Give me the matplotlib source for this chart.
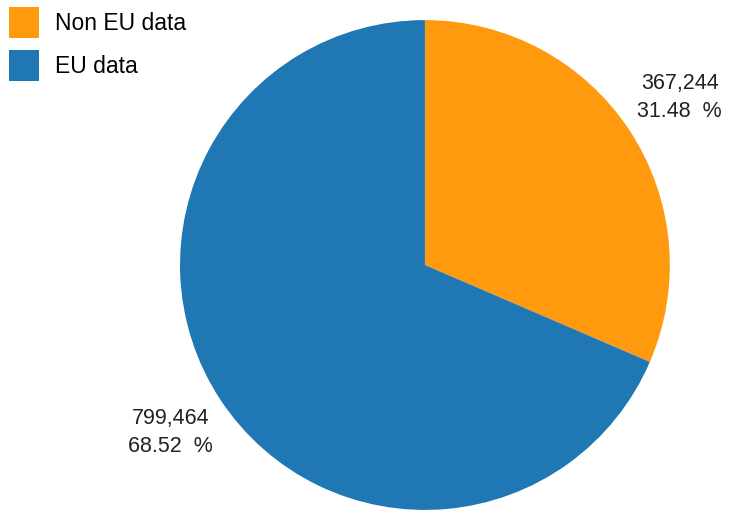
import matplotlib.pyplot as plt

categories = ['Non EU data', 'EU data']
values = [367244, 799464]
colors = ['#ff9a0e', '#1f77b4']

plt.rcParams['font.family'] = ['Liberation Sans', 'DejaVu Sans']

fig = plt.figure(figsize=(7.3, 5.12), dpi=100)
ax = fig.add_axes([0.2466, 0.0039, 0.671, 0.957])

total = sum(values)
labels = ['{:,}\n{:.2f}  %'.format(v, 100 * v / total) for v in values]

wedges, texts = ax.pie(values, colors=colors, startangle=90, counterclock=False,
                       labels=labels, labeldistance=1.245,
                       textprops={'fontsize': 15.5, 'color': '#222222',
                                  'linespacing': 1.4})
for t in texts:
    t.set_horizontalalignment('center')
    t.set_multialignment('center')
ax.set_xlim(-1, 1)
ax.set_ylim(-1, 1)
ax.set_aspect('equal')

fig.legend(wedges, categories, loc='upper left', bbox_to_anchor=(0.005, 0.998),
           frameon=False, fontsize=16.5, handlelength=1.3, handleheight=1.7,
           handletextpad=0.7, labelspacing=0.55, borderaxespad=0.0,
           borderpad=0.25)

fig.savefig('out.png', dpi=100)
